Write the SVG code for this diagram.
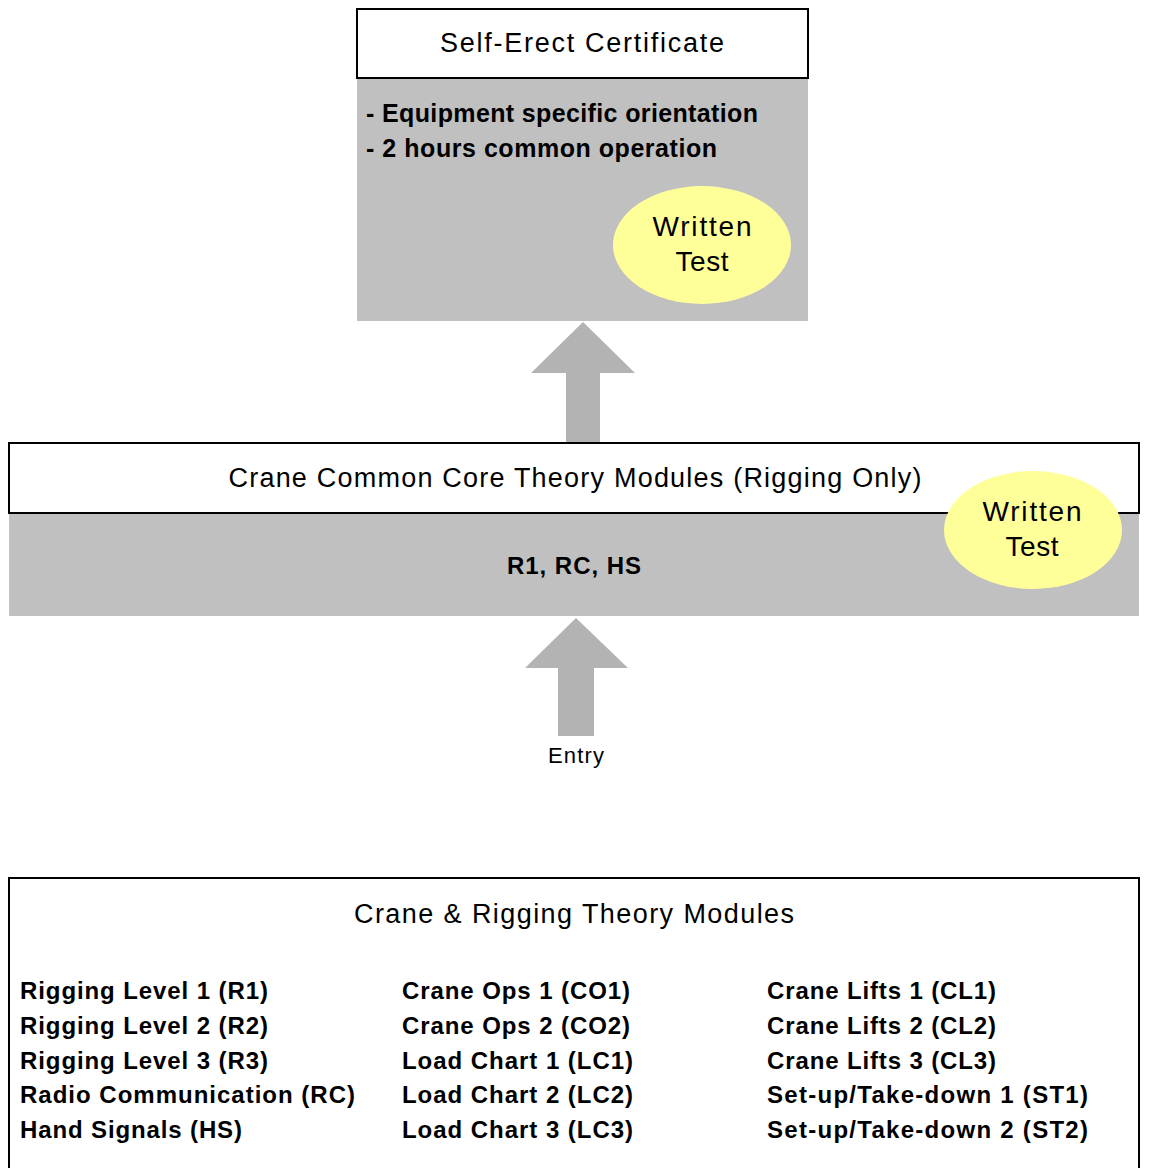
<svg xmlns="http://www.w3.org/2000/svg" width="1151" height="1168" viewBox="0 0 1151 1168">
<style>
text{font-family:"Liberation Sans",Arial,sans-serif;fill:#000}
.hdr{fill:#fff;stroke:#000;stroke-width:2}
.grey{fill:#c0c0c0}
.test{fill:#ffff99}
.arrow{fill:#b3b3b3}
.t27{font-size:27px}
.t28{font-size:28px}
.b{font-weight:bold;font-size:24px}
.b25{font-weight:bold;font-size:25px}
.c{text-anchor:middle}
</style>
<rect width="1151" height="1168" fill="#fff"/>
<g id="connectors">
<polygon class="arrow" points="583,322 635,373 600,373 600,443 566,443 566,373 531,373"/>
<polygon class="arrow" points="576,618 628,668 594,668 594,736 558,736 558,668 525,668"/>
</g>
<g id="self-erect">
<rect class="grey" x="357" y="78" width="451" height="243"/>
<rect class="hdr" x="357" y="9" width="451" height="69"/>
<text class="t27 c" x="582" y="52" textLength="284" lengthAdjust="spacing">Self-Erect Certificate</text>
<text class="b25" x="366" y="122" textLength="392" lengthAdjust="spacing">- Equipment specific orientation</text>
<text class="b25" x="366" y="157" textLength="351" lengthAdjust="spacing">- 2 hours common operation</text>
</g>
<g id="test1">
<ellipse class="test" cx="702" cy="245" rx="89" ry="59"/>
<text class="t28 c" x="702" y="236" textLength="99" lengthAdjust="spacing">Written</text>
<text class="t28 c" x="702" y="271" textLength="53" lengthAdjust="spacing">Test</text>
</g>
<g id="common-core">
<rect class="grey" x="9" y="513" width="1130" height="103"/>
<rect class="hdr" x="9" y="443" width="1130" height="70"/>
<text class="t27 c" x="575" y="487" textLength="693" lengthAdjust="spacing">Crane Common Core Theory Modules (Rigging Only)</text>
<text class="b c" x="574" y="574" textLength="134" lengthAdjust="spacing">R1, RC, HS</text>
</g>
<g id="test2">
<ellipse class="test" cx="1033" cy="530" rx="89" ry="59"/>
<text class="t28 c" x="1032" y="521" textLength="99" lengthAdjust="spacing">Written</text>
<text class="t28 c" x="1032" y="556" textLength="53" lengthAdjust="spacing">Test</text>
</g>
<g id="entry">
<text class="c" x="576" y="763" font-size="22" textLength="56" lengthAdjust="spacing">Entry</text>
</g>
<g id="modules">
<rect x="9" y="878" width="1130" height="300" fill="#fff" stroke="#000" stroke-width="2"/>
<text class="t27 c" x="574" y="923" textLength="440" lengthAdjust="spacing">Crane &amp; Rigging Theory Modules</text>
<text class="b" x="20" y="999" textLength="248" lengthAdjust="spacing">Rigging Level 1 (R1)</text>
<text class="b" x="20" y="1034" textLength="248" lengthAdjust="spacing">Rigging Level 2 (R2)</text>
<text class="b" x="20" y="1069" textLength="248" lengthAdjust="spacing">Rigging Level 3 (R3)</text>
<text class="b" x="20" y="1103" textLength="335" lengthAdjust="spacing">Radio Communication (RC)</text>
<text class="b" x="20" y="1138" textLength="222" lengthAdjust="spacing">Hand Signals (HS)</text>
<text class="b" x="402" y="999" textLength="228" lengthAdjust="spacing">Crane Ops 1 (CO1)</text>
<text class="b" x="402" y="1034" textLength="228" lengthAdjust="spacing">Crane Ops 2 (CO2)</text>
<text class="b" x="402" y="1069" textLength="231" lengthAdjust="spacing">Load Chart 1 (LC1)</text>
<text class="b" x="402" y="1103" textLength="231" lengthAdjust="spacing">Load Chart 2 (LC2)</text>
<text class="b" x="402" y="1138" textLength="231" lengthAdjust="spacing">Load Chart 3 (LC3)</text>
<text class="b" x="767" y="999" textLength="229" lengthAdjust="spacing">Crane Lifts 1 (CL1)</text>
<text class="b" x="767" y="1034" textLength="229" lengthAdjust="spacing">Crane Lifts 2 (CL2)</text>
<text class="b" x="767" y="1069" textLength="229" lengthAdjust="spacing">Crane Lifts 3 (CL3)</text>
<text class="b" x="767" y="1103" textLength="321" lengthAdjust="spacing">Set-up/Take-down 1 (ST1)</text>
<text class="b" x="767" y="1138" textLength="321" lengthAdjust="spacing">Set-up/Take-down 2 (ST2)</text>
</g>
</svg>
